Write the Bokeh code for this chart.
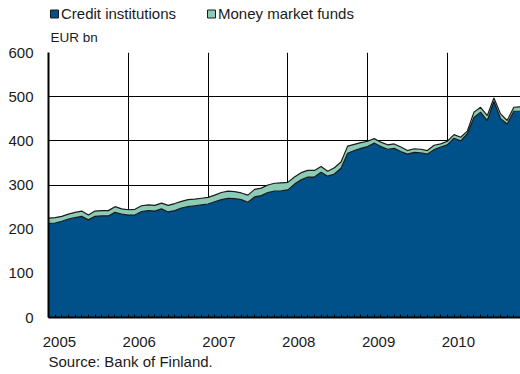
from bokeh.plotting import figure
from bokeh.layouts import column
from bokeh.models import (Range1d, FixedTicker, Label, ColumnDataSource,
                          CustomJSTickFormatter)
from bokeh.embed import file_html
from bokeh.resources import INLINE

# ---- data (EUR bn, monthly Jan 2005 .. Dec 2010) ----
start_year = 2005
years = [2005, 2006, 2007, 2008, 2009, 2010]
year_labels = ["2005", "2006", "2007", "2008", "2009", "2010"]
y_ticks = [0, 100, 200, 300, 400, 500, 600]
series_names = ["Credit institutions", "Money market funds"]

credit_institutions = [
    213, 214, 218, 223, 226, 229, 221, 229, 230, 230, 238, 234,
    232, 232, 240, 242, 241, 246, 239, 242, 248, 251, 253, 255,
    257, 262, 267, 270, 269, 267, 261, 273, 276, 283, 286, 287,
    289, 302, 312, 318, 318, 329, 320, 325, 338, 372, 378, 383,
    387, 395, 387, 381, 383, 376, 370, 374, 373, 370, 380, 386,
    391, 406, 400, 416, 453, 465, 446, 489, 450, 438, 467, 467,
]
money_market_funds = [
    12, 12, 11, 11, 12, 12, 11, 12, 12, 12, 13, 12,
    12, 13, 13, 13, 13, 13, 15, 16, 15, 16, 15, 15,
    15, 15, 16, 16, 16, 15, 16, 17, 17, 17, 18, 18,
    17, 16, 16, 15, 15, 13, 11, 14, 14, 16, 14, 13,
    12, 10, 10, 10, 10, 10, 8, 8, 8, 8, 10, 7,
    8, 8, 8, 6, 12, 11, 11, 8, 11, 8, 9, 10,
]

BLUE = "#00518a"
GREEN = "#8ccbb5"
INK = "#1a1a1a"
FONT = "Liberation Sans"
W = 520
LEFT = 48

n = len(credit_institutions)
xs = [start_year + m / 12 for m in range(n)]
top = [c + f for c, f in zip(credit_institutions, money_market_funds)]
src = ColumnDataSource(dict(x=xs, credit=credit_institutions, top=top, zero=[0] * n))


def strip(height, left):
    # a figure whose data units are page pixels (x from page left, y from strip bottom)
    f = figure(width=W, height=height, output_backend="svg", toolbar_location=None,
               x_range=Range1d(left, W), y_range=Range1d(0, height),
               x_axis_location=None, y_axis_location=None,
               min_border_left=left, min_border_right=0, min_border_top=0, min_border_bottom=0)
    f.outline_line_color = None
    f.grid.visible = False
    return f


# ---- header: legend + unit ----
HEAD_H = 44
head = strip(HEAD_H, LEFT)
head.quad(left=[50, 207], right=[58, 215], top=[34.5, 34.5], bottom=[26.5, 26.5],
          fill_color=[BLUE, GREEN], line_color=INK, line_width=1)
for name, lx in zip(series_names, [60.5, 217.5]):
    head.add_layout(Label(x=lx, y=HEAD_H - 12.5, text=name, text_font=FONT,
                          text_font_size="15px", text_color=INK, text_baseline="middle"))
head.add_layout(Label(x=50, y=HEAD_H - 36.8, text="EUR bn", text_font=FONT,
                      text_font_size="13.5px", text_color=INK, text_baseline="middle"))

# ---- main chart ----
p = figure(width=W, height=307, output_backend="svg", toolbar_location=None,
           x_range=Range1d(start_year, xs[-1]), y_range=Range1d(0, 600),
           min_border_left=LEFT, min_border_right=0, min_border_top=8, min_border_bottom=34)
p.outline_line_color = None

p.varea(x="x", y1="zero", y2="credit", source=src, fill_color=BLUE)
p.varea(x="x", y1="credit", y2="top", source=src, fill_color=GREEN)
p.line("x", "credit", source=src, line_color=INK, line_width=1.2)
p.line("x", "top", source=src, line_color=INK, line_width=1.2)

p.xgrid.ticker = FixedTicker(ticks=years[1:])
p.ygrid.ticker = FixedTicker(ticks=y_ticks[1:])
for g in (p.xgrid, p.ygrid):
    g.grid_line_color = "black"
    g.grid_line_width = 1

p.yaxis.ticker = FixedTicker(ticks=y_ticks)
p.yaxis.major_tick_in = 0
p.yaxis.major_tick_out = 0
p.yaxis.minor_tick_line_color = None
p.yaxis.axis_line_color = "black"
p.yaxis.axis_line_width = 2
p.yaxis.major_label_standoff = 15
p.yaxis.major_label_text_font = FONT
p.yaxis.major_label_text_font_size = "15px"
p.yaxis.major_label_text_color = INK

shift = 1.65 / 12
p.xaxis.ticker = FixedTicker(ticks=[y + shift for y in years], minor_ticks=xs)
p.xaxis.formatter = CustomJSTickFormatter(args=dict(labels=year_labels, first=start_year),
                                          code="return labels[Math.round(tick - first - 0.2)] || ''")
p.xaxis.major_tick_in = 0
p.xaxis.major_tick_out = 0
p.xaxis.minor_tick_in = 3
p.xaxis.minor_tick_out = 0
p.xaxis.minor_tick_line_color = "black"
p.xaxis.axis_line_color = "black"
p.xaxis.axis_line_width = 2
p.xaxis.major_label_standoff = 19
p.xaxis.major_label_text_font = FONT
p.xaxis.major_label_text_font_size = "15px"
p.xaxis.major_label_text_color = INK

# ---- footer: source ----
FOOT_H = 23
foot = strip(FOOT_H, 45)
foot.add_layout(Label(x=45, y=FOOT_H - (360.8 - 351), text="Source: Bank of Finland.",
                      text_font=FONT, text_font_size="15px", text_color=INK,
                      text_baseline="middle"))

layout = column(head, p, foot, spacing=0)
open("out.html", "w").write(file_html(layout, INLINE))
